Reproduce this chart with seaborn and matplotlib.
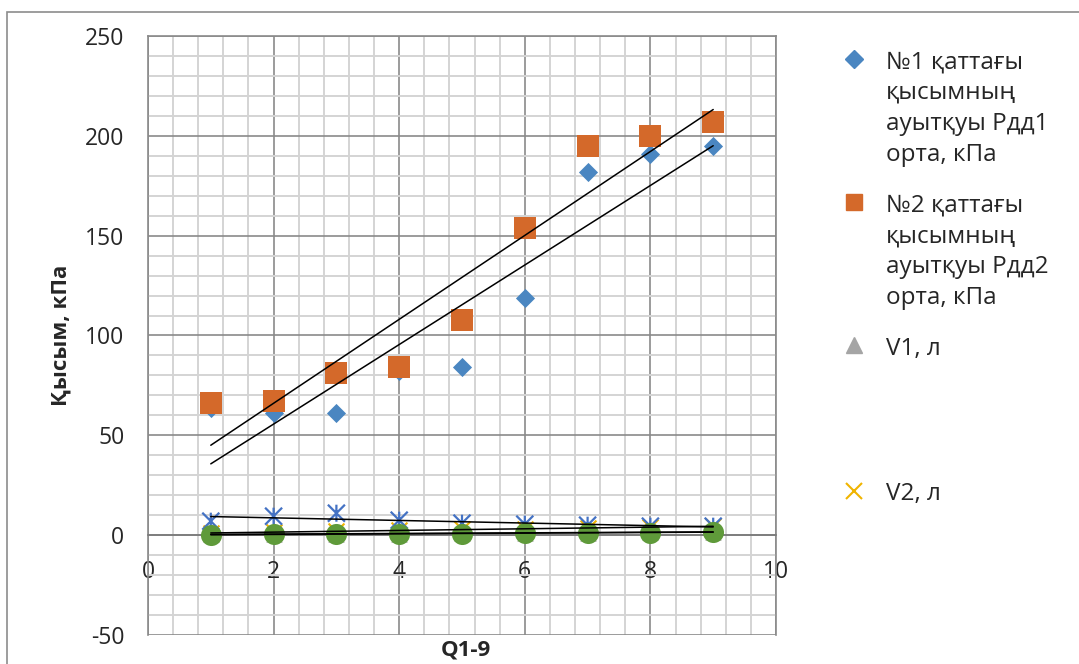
import matplotlib
matplotlib.use("Agg")
import matplotlib.pyplot as plt
import seaborn as sns
import numpy as np
import pandas as pd
from matplotlib.path import Path
from matplotlib.patches import Rectangle
from matplotlib.lines import Line2D

# data
q = [1, 2, 3, 4, 5, 6, 7, 8, 9]
p_dd1 = [63.5, 61, 61, 82, 84, 119, 182, 191, 195]
p_dd2 = [66, 67, 81, 84, 108, 154, 195, 200, 207]
v1 = [0.5, 0.5, 0.7, 0.8, 1.0, 1.1, 1.3, 1.5, 1.7]
v2 = [1.0, 1.5, 2.0, 2.5, 3.0, 3.0, 3.5, 4.0, 4.5]
s5 = [7, 9.5, 11, 7.5, 6, 5.5, 5, 4.5, 4.5]
s6 = [0.3, 0.4, 0.5, 0.6, 0.8, 1.0, 1.1, 1.3, 1.7]

lbl1 = "№1 қаттағы\nқысымның\nауытқуы Рдд1\nорта, кПа"
lbl2 = "№2 қаттағы\nқысымның\nауытқуы Рдд2\nорта, кПа"
lbl3 = "V1, л"
lbl4 = "V2, л"

df = pd.DataFrame({"q": q, "p1": p_dd1, "p2": p_dd2, "v1": v1, "v2": v2,
                   "s5": s5, "s6": s6})

sns.set_style("white")
plt.rcParams['font.family'] = ['Open Sans', 'DejaVu Sans']
plt.rcParams['axes.unicode_minus'] = False

fig = plt.figure(figsize=(10.79, 6.64), dpi=100)
ax = fig.add_axes([148 / 1079, 1 - 635 / 664, (776 - 148) / 1079, (635 - 36) / 664])

# outer chart border
fig.patches.append(Rectangle((7 / 1079, -0.1), 1.2, 1 - 12 / 664 + 0.1,
                             transform=fig.transFigure, fill=False,
                             edgecolor="#8c8c8c", linewidth=1.2))

star = Path([(-1, -1), (1, 1), (-1, 1), (1, -1), (0, -1), (0, 1)],
            [Path.MOVETO, Path.LINETO, Path.MOVETO, Path.LINETO, Path.MOVETO, Path.LINETO])

c1, c2, c3, c4, c5, c6 = "#4a86c1", "#d4692a", "#a5a5a5", "#f0b400", "#4472c4", "#5f9a3a"

sns.scatterplot(data=df, x="q", y="p1", marker="D", s=95, color=c1,
                linewidth=0, ax=ax, zorder=3)
sns.scatterplot(data=df, x="q", y="p2", marker="s", s=230, color=c2,
                linewidth=0, ax=ax, zorder=3)
sns.scatterplot(data=df, x="q", y="v1", marker="^", s=140, color=c3,
                linewidth=0, ax=ax, zorder=3)
sns.scatterplot(data=df, x="q", y="v2", marker="x", s=130, color=c4,
                linewidth=1.5, ax=ax, zorder=3)
sns.scatterplot(data=df, x="q", y="s5", marker=star, s=150, color=c5,
                edgecolor=c5, facecolor="none", linewidth=1.6, ax=ax, zorder=3)
sns.scatterplot(data=df, x="q", y="s6", marker="o", s=230, color=c6,
                linewidth=0, ax=ax, zorder=3)

# linear trend lines
for col in ["p1", "p2", "v1", "v2", "s5", "s6"]:
    sns.regplot(data=df, x="q", y=col, scatter=False, ci=None, ax=ax,
                line_kws={"color": "black", "linewidth": 1.1, "zorder": 5})

ax.set_xlim(0, 10)
ax.set_ylim(-50, 250)
ax.set_xticks(np.arange(0, 11, 2))
ax.set_yticks(np.arange(-50, 251, 50))
ax.set_xticks(np.arange(0, 10.01, 0.4), minor=True)
ax.set_yticks(np.arange(-50, 251, 10), minor=True)
ax.grid(which="minor", color="#d4d4d4", linewidth=1.4, zorder=0)
ax.grid(which="major", color="#8a8a8a", linewidth=1.2, zorder=1)
ax.set_axisbelow(True)

ax.spines['bottom'].set_position(('data', 0))
for sp in ax.spines.values():
    sp.set_color("#8a8a8a")
    sp.set_linewidth(1.2)
ax.spines['bottom'].set_color("#7a7a7a")

ax.tick_params(axis="y", which="major", length=7, color="#8a8a8a", pad=10, labelsize=16.5)
ax.tick_params(axis="x", which="major", length=0, pad=18, labelsize=16.5)
ax.tick_params(which="minor", length=0)

ax.set_xlabel("")
ax.set_ylabel("Қысым, кПа", fontsize=16, fontweight="bold", labelpad=10)
fig.text(466 / 1079, 1 - 650 / 664, "Q1-9", ha="center", va="center",
         fontsize=16, fontweight="bold")

handles = [
    Line2D([], [], marker="D", linestyle="none", color=c1, markersize=9.5),
    Line2D([], [], marker="s", linestyle="none", color=c2, markersize=12),
    Line2D([], [], marker="^", linestyle="none", color=c3, markersize=12),
]
leg = fig.legend(handles, [lbl1, lbl2, lbl3], loc="upper left",
                 bbox_to_anchor=(830 / 1079, 1 - 38 / 664), frameon=False,
                 fontsize=17.5, handletextpad=0.8, labelspacing=1.1,
                 handlelength=1.0, borderpad=0)
leg2 = fig.legend([Line2D([], [], marker="x", linestyle="none", color=c4,
                          markersize=12, markeredgewidth=1.5)], [lbl4],
                  loc="upper left", bbox_to_anchor=(830 / 1079, 1 - 470 / 664),
                  frameon=False, fontsize=17.5, handletextpad=0.8,
                  handlelength=1.0, borderpad=0)
for lg in (leg, leg2):
    for t in lg.get_texts():
        t.set_linespacing(1.38)
    for col in lg._legend_handle_box.get_children():
        for row in col.get_children():
            row.align = "top"

fig.savefig("out.png", dpi=100)
